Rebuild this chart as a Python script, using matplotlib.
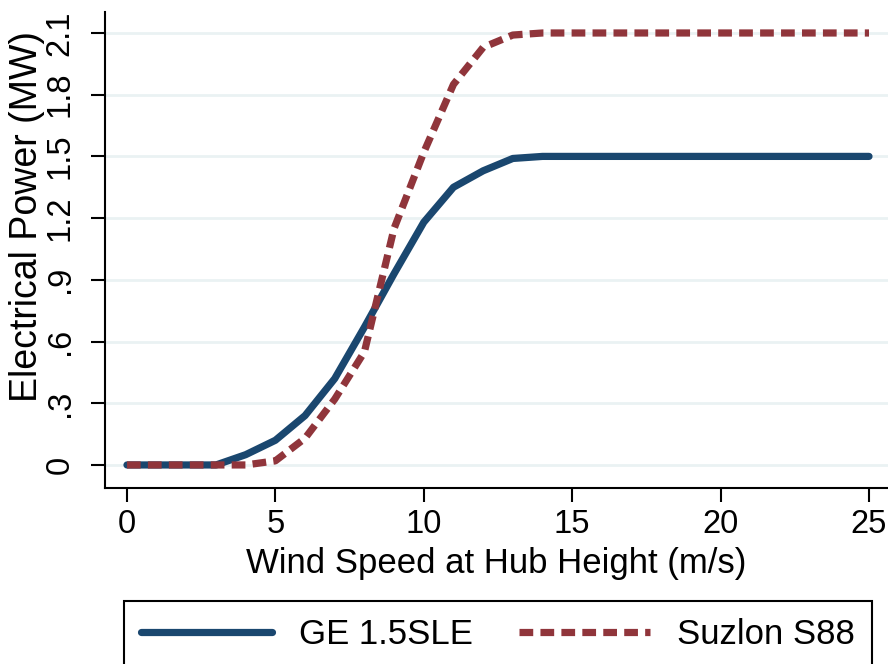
import matplotlib
matplotlib.use("Agg")
import matplotlib.pyplot as plt
import numpy as np

# ── Data ──────────────────────────────────────────────────────────────────────
wind_ge = [0, 1, 2, 3, 4, 5, 6, 7, 8, 9, 10, 11, 12, 13, 14, 15, 16, 17, 18,
           19, 20, 21, 22, 23, 24, 25]
power_ge = [0, 0, 0, 0, 0.05, 0.12, 0.24, 0.42, 0.67, 0.93, 1.18, 1.35, 1.43,
            1.49, 1.5, 1.5, 1.5, 1.5, 1.5, 1.5, 1.5, 1.5, 1.5, 1.5, 1.5, 1.5]

wind_sz = [0, 1, 2, 3, 4, 5, 6, 7, 8, 9, 10, 11, 12, 13, 14, 15, 16, 17, 18,
           19, 20, 21, 22, 23, 24, 25]
power_sz = [0, 0, 0, 0, 0, 0.02, 0.13, 0.32, 0.55, 1.15, 1.52, 1.85, 2.03,
            2.09, 2.1, 2.1, 2.1, 2.1, 2.1, 2.1, 2.1, 2.1, 2.1, 2.1, 2.1, 2.1]

y_ticks = [0, 0.3, 0.6, 0.9, 1.2, 1.5, 1.8, 2.1]
y_labels = ["0", ".3", ".6", ".9", "1.2", "1.5", "1.8", "2.1"]
x_ticks = [0, 5, 10, 15, 20, 25]

C_GE = "#1a476f"
C_SZ = "#90353b"
FS_TICK = 23.5
FS_TITLE = 25

plt.rcParams["font.family"] = ["Liberation Sans", "DejaVu Sans"]

W, H = 888, 664
fig = plt.figure(figsize=(W / 100, H / 100), dpi=100)
ax = fig.add_axes([105 / W, 1 - 488 / H, (888 - 105) / W, (488 - 12) / H])

ax.set_xlim(-0.74, 25.64)
ax.set_ylim(-0.112, 2.202)

for yt in y_ticks:
    ax.axhline(yt, color="#eaf2f3", linewidth=2, zorder=0)

ax.plot(wind_ge, power_ge, color=C_GE, linewidth=5.2,
        solid_capstyle="round", solid_joinstyle="round", label="GE 1.5SLE", zorder=2)
ax.plot(wind_sz, power_sz, color=C_SZ, linewidth=5.2, linestyle=(0, (1.9, 1.0)),
        dash_capstyle="butt", label="Suzlon S88", zorder=3)

ax.set_yticks(y_ticks)
ax.set_yticklabels(y_labels, rotation=90, va="center")
ax.set_xticks(x_ticks)
ax.tick_params(axis="both", labelsize=FS_TICK, length=10, width=1.5, direction="out")
ax.tick_params(axis="y", pad=11)
ax.tick_params(axis="x", pad=5)

for s in ["top", "right"]:
    ax.spines[s].set_visible(False)
for s in ["left", "bottom"]:
    ax.spines[s].set_linewidth(1.5)

ax.set_xlabel("Wind Speed at Hub Height (m/s)", fontsize=FS_TITLE, labelpad=5)
ax.set_ylabel("Electrical Power (MW)", fontsize=27, va="center")
ax.yaxis.set_label_coords((27 - 105) / 783, (488 - 216) / 476)

leg = fig.legend(loc="upper left", bbox_to_anchor=(124 / W, 1 - 601 / H),
                 ncol=2, fontsize=FS_TITLE, handlelength=3.75,
                 handletextpad=0.78, columnspacing=1.35, borderpad=0.5,
                 borderaxespad=0, fancybox=False, edgecolor="black", framealpha=1)
leg.get_frame().set_linewidth(1.5)

fig.savefig("out.png", dpi=100)
